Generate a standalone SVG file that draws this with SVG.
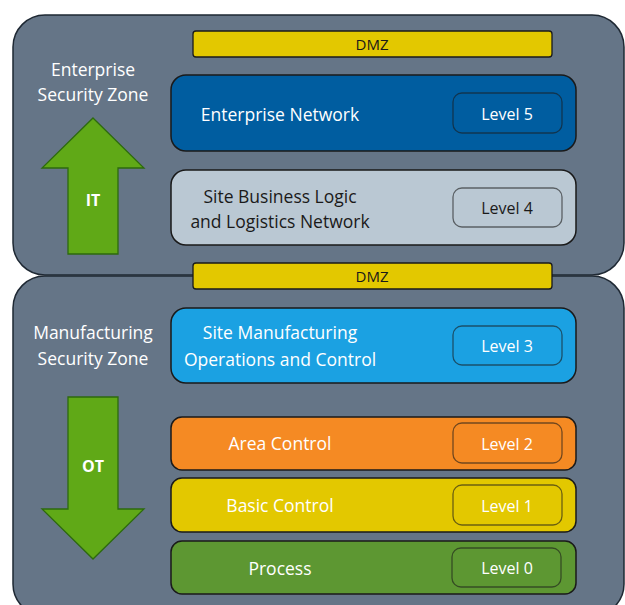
<svg xmlns="http://www.w3.org/2000/svg" width="625" height="605" viewBox="0 0 625 605">
<style>
text{font-family:"Open Sans","Liberation Sans",Arial,sans-serif;dominant-baseline:central;text-anchor:middle}
.zone{fill:#657587;stroke:#1e2833;stroke-width:1.5}
.box{stroke:#1a1a1a;stroke-width:1.5}
.lvl{stroke:#1a1a1a;stroke-opacity:0.6;stroke-width:1.3}
.t{font-size:17.5px;fill:#ffffff}
.td{font-size:17.5px;fill:#1a1a1a}
.lt{font-size:16px;fill:#ffffff}
.ltd{font-size:16px;fill:#1a1a1a}
.dmz{fill:#e3c800;stroke:#1a1a1a;stroke-width:1.3}
.dmzt{font-size:15px;fill:#1a1a1a}
.arrow{fill:#60a917;stroke:#2d6a0e;stroke-width:1.3}
.at{font-size:16px;font-weight:bold;fill:#ffffff}
</style>
<g id="enterprise-zone">
<rect class="zone" x="13" y="15" width="611" height="260" rx="32"/>
<text class="t" x="93" y="69">Enterprise</text>
<text class="t" x="93" y="94">Security Zone</text>
</g>
<g id="manufacturing-zone">
<rect class="zone" x="13" y="276" width="611" height="340" rx="32"/>
<text class="t" x="93" y="332">Manufacturing</text>
<text class="t" x="93" y="358">Security Zone</text>
</g>
<g id="dmz-top">
<rect class="dmz" x="193" y="31" width="359" height="26" rx="3"/>
<text class="dmzt" x="372" y="44">DMZ</text>
</g>
<g id="dmz-mid">
<rect class="dmz" x="193" y="263" width="359" height="26" rx="3"/>
<text class="dmzt" x="372" y="276">DMZ</text>
</g>
<g id="it-arrow">
<polygon class="arrow" points="93,118 144,168 118,168 118,254 68,254 68,168 42,168"/>
<text class="at" x="93" y="200">IT</text>
</g>
<g id="ot-arrow">
<polygon class="arrow" points="68,397 118,397 118,509 144,509 93,559 42,509 68,509"/>
<text class="at" x="93" y="466">OT</text>
</g>
<g id="level5">
<rect class="box" x="171" y="75" width="405" height="76" rx="15" fill="#005da0"/>
<text class="t" x="280" y="114">Enterprise Network</text>
<rect class="lvl" x="453" y="93" width="109" height="40" rx="9" fill="#005da0"/>
<text class="lt" x="507" y="114">Level 5</text>
</g>
<g id="level4">
<rect class="box" x="171" y="170" width="405" height="75" rx="15" fill="#bac8d3"/>
<text class="td" x="280" y="196">Site Business Logic</text>
<text class="td" x="280" y="221">and Logistics Network</text>
<rect class="lvl" x="453" y="188" width="109" height="39" rx="9" fill="#bac8d3"/>
<text class="ltd" x="507" y="208">Level 4</text>
</g>
<g id="level3">
<rect class="box" x="171" y="308" width="405" height="75" rx="15" fill="#1ba1e2"/>
<text class="t" x="280" y="332">Site Manufacturing</text>
<text class="t" x="280" y="359">Operations and Control</text>
<rect class="lvl" x="453" y="326" width="109" height="39" rx="9" fill="#1ba1e2"/>
<text class="lt" x="507" y="346">Level 3</text>
</g>
<g id="level2">
<rect class="box" x="171" y="417" width="405" height="53" rx="11" fill="#f58a23"/>
<text class="t" x="280" y="443">Area Control</text>
<rect class="lvl" x="453" y="423" width="109" height="40" rx="9" fill="#f58a23"/>
<text class="lt" x="507" y="444">Level 2</text>
</g>
<g id="level1">
<rect class="box" x="171" y="478" width="405" height="54" rx="11" fill="#e3c800"/>
<text class="t" x="280" y="505">Basic Control</text>
<rect class="lvl" x="453" y="485" width="109" height="40" rx="9" fill="#e3c800"/>
<text class="lt" x="507" y="506">Level 1</text>
</g>
<g id="level0">
<rect class="box" x="171" y="541" width="405" height="53" rx="11" fill="#5d9732"/>
<text class="t" x="280" y="568">Process</text>
<rect class="lvl" x="452" y="548" width="109" height="39" rx="9" fill="#5d9732"/>
<text class="lt" x="507" y="568">Level 0</text>
</g>
<g id="connectors"/>
</svg>
